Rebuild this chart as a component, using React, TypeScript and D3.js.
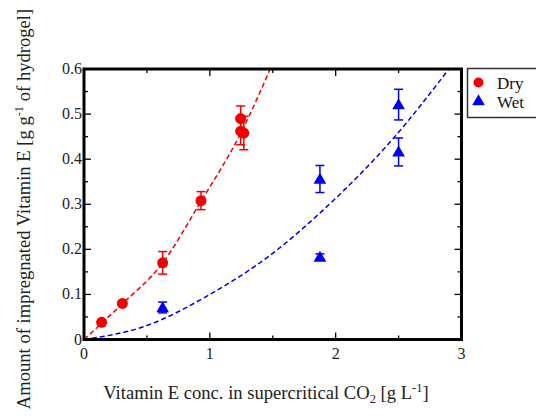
import React from "react";
import * as d3 from "d3";

// Dry series
const dryX = [0.14, 0.305, 0.625, 0.93, 1.245, 1.245, 1.27];
const dryY = [0.038, 0.08, 0.17, 0.308, 0.49, 0.462, 0.458];
const dryErr = [0.004, 0.004, 0.025, 0.02, 0.028, 0.03, 0.037];

// Wet series
const wetX = [0.625, 1.875, 1.875, 2.5, 2.5];
const wetY = [0.071, 0.356, 0.183, 0.521, 0.416];
const wetErr = [0.012, 0.03, 0.007, 0.034, 0.031];

// Fitted curves
const dryFitX = [0, 0.14, 0.3, 0.62, 0.92, 1.25, 1.48];
const dryFitY = [0, 0.036, 0.078, 0.168, 0.302, 0.46, 0.6];
const wetFitX = [0, 0.5, 1.0, 1.48, 1.9, 2.47, 2.9];
const wetFitY = [0, 0.031, 0.1, 0.187, 0.287, 0.45, 0.6];

const xMajor = [0, 1, 2, 3];
const xMinor = [0.5, 1.5, 2.5];
const yMajor = [0, 0.1, 0.2, 0.3, 0.4, 0.5, 0.6];
const yMinor = [0.05, 0.15, 0.25, 0.35, 0.45, 0.55];
const seriesNames = ["Dry", "Wet"];

const RED = "#f20000";
const BLUE = "#0000f0";
const FONT = '"Liberation Serif", "Times New Roman", "DejaVu Serif", serif';

export default function App() {
  const W = 536, H = 418;
  const L = 84, R = 461.5, T = 69, B = 339.5;
  const x = d3.scaleLinear().domain([0, 3]).range([L, R]);
  const y = d3.scaleLinear().domain([0, 0.6]).range([B, T]);

  const line = d3
    .line<[number, number]>()
    .x((d) => x(d[0]))
    .y((d) => y(d[1]))
    .curve(d3.curveMonotoneX);

  const dryFit = dryFitX.map((v, i) => [v, dryFitY[i]] as [number, number]);
  const wetFit = wetFitX.map((v, i) => [v, wetFitY[i]] as [number, number]);

  const tri = d3.symbol().type(d3.symbolTriangle).size(70)();
  const fmtY = (v: number) => (v === 0 ? "0" : v.toFixed(1));
  const ts = { fontFamily: FONT };

  const errBar = (cx: number, cy: number, e: number, color: string, key: string) => (
    <g key={key} stroke={color} strokeWidth={1.5}>
      <line x1={x(cx)} x2={x(cx)} y1={y(cy - e)} y2={y(cy + e)} />
      <line x1={x(cx) - 4.5} x2={x(cx) + 4.5} y1={y(cy - e)} y2={y(cy - e)} />
      <line x1={x(cx) - 4.5} x2={x(cx) + 4.5} y1={y(cy + e)} y2={y(cy + e)} />
    </g>
  );

  return (
    <svg
      width={W}
      height={H}
      style={{ position: "absolute", left: 0, top: 0, background: "#fff", fontFamily: FONT }}
    >
      <rect width={W} height={H} fill="#fff" />
      <defs>
        <clipPath id="plotclip">
          <rect x={L} y={T} width={R - L} height={B - T} />
        </clipPath>
      </defs>

      {/* fitted curves */}
      <g clipPath="url(#plotclip)" fill="none" strokeWidth={1.5} strokeDasharray="5,3">
        <path d={line(dryFit) || ""} stroke={RED} />
        <path d={line(wetFit) || ""} stroke={BLUE} />
      </g>

      {/* error bars and markers */}
      {dryX.map((v, i) => errBar(v, dryY[i], dryErr[i], RED, "de" + i))}
      {wetX.map((v, i) => errBar(v, wetY[i], wetErr[i], BLUE, "we" + i))}
      {dryX.map((v, i) => (
        <circle key={"d" + i} cx={x(v)} cy={y(dryY[i])} r={5.5} fill={RED} />
      ))}
      {wetX.map((v, i) => (
        <path key={"w" + i} d={tri || ""} transform={`translate(${x(v)},${y(wetY[i]) + 1})`} fill={BLUE} />
      ))}

      {/* ticks */}
      <g stroke="#000" strokeWidth={1.3}>
        {xMajor.map((v) => (
          <g key={"xM" + v}>
            <line x1={x(v)} x2={x(v)} y1={B} y2={B - 7} />
            <line x1={x(v)} x2={x(v)} y1={T} y2={T + 7} />
          </g>
        ))}
        {xMinor.map((v) => (
          <g key={"xm" + v}>
            <line x1={x(v)} x2={x(v)} y1={B} y2={B - 4} />
            <line x1={x(v)} x2={x(v)} y1={T} y2={T + 4} />
          </g>
        ))}
        {yMajor.map((v) => (
          <g key={"yM" + v}>
            <line x1={L} x2={L + 7} y1={y(v)} y2={y(v)} />
            <line x1={R} x2={R - 7} y1={y(v)} y2={y(v)} />
          </g>
        ))}
        {yMinor.map((v) => (
          <g key={"ym" + v}>
            <line x1={L} x2={L + 4} y1={y(v)} y2={y(v)} />
            <line x1={R} x2={R - 4} y1={y(v)} y2={y(v)} />
          </g>
        ))}
      </g>

      {/* frame */}
      <rect x={L} y={T} width={R - L} height={B - T} fill="none" stroke="#000" strokeWidth={3} />

      {/* tick labels */}
      <g fontSize={16} fill="#222" style={ts}>
        {xMajor.map((v) => (
          <text key={"xl" + v} x={x(v)} y={B + 19} textAnchor="middle" style={ts}>
            {v}
          </text>
        ))}
        {yMajor.map((v) => (
          <text key={"yl" + v} x={L - 2} y={y(v) + 5} textAnchor="end" style={ts}>
            {fmtY(v)}
          </text>
        ))}
      </g>

      {/* axis labels */}
      <text x={266} y={399} textAnchor="middle" fontSize={18.6} fill="#222" style={ts}>
        Vitamin E conc. in supercritical CO
        <tspan fontSize={12.5} dy={4}>2</tspan>
        <tspan dy={-4}> [g L</tspan>
        <tspan fontSize={12.5} dy={-7}>-1</tspan>
        <tspan dy={7}>]</tspan>
      </text>
      <text
        transform={`translate(30,${209}) rotate(-90)`}
        textAnchor="middle"
        fontSize={18.6}
        fill="#222"
        style={ts}
      >
        Amount of impregnated Vitamin E [g g
        <tspan fontSize={12.5} dy={-7}>-1</tspan>
        <tspan dy={7}> of hydrogel]</tspan>
      </text>

      {/* legend */}
      <rect x={467.5} y={68.5} width={80} height={49} fill="#fff" stroke="#333" strokeWidth={1.5} />
      <circle cx={478.5} cy={82.5} r={5} fill={RED} />
      <path d={tri || ""} transform={`translate(478.5,101.5)`} fill={BLUE} />
      <text x={497} y={89} fontSize={17} fill="#111" style={ts}>{seriesNames[0]}</text>
      <text x={497} y={108} fontSize={17} fill="#111" style={ts}>{seriesNames[1]}</text>
    </svg>
  );
}
